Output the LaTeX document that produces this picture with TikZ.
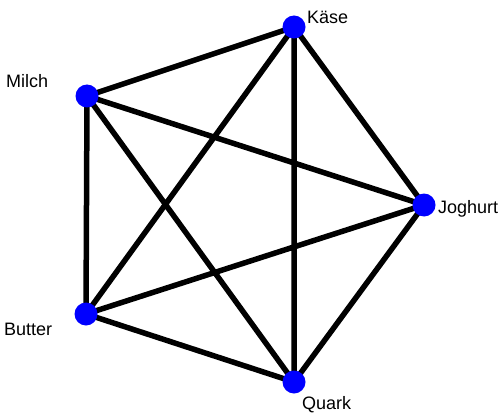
\documentclass[tikz,border=0pt]{standalone}
\usepackage{fontspec}
\setmainfont{Liberation Sans}
\begin{document}
\begin{tikzpicture}[x=1pt,y=1pt,
  vtx/.style={circle,fill=blue,draw=none,minimum size=23pt,inner sep=0pt},
  lbl/.style={anchor=base west,inner sep=0pt,font=\fontsize{18}{20}\selectfont},
  edge/.style={line width=5.5pt,black}]
\useasboundingbox (0,0) rectangle (500,413);
\coordinate (K) at (294,386);
\coordinate (M) at (87,317);
\coordinate (J) at (424,208);
\coordinate (B) at (86,99);
\coordinate (Q) at (294,31);
\draw[edge] (K) -- (M) (K) -- (J) (K) -- (B) (K) -- (Q)
  (M) -- (J) (M) -- (B) (M) -- (Q)
  (J) -- (B) (J) -- (Q) (B) -- (Q);
\node[vtx] (nK) at (K) {};
\node[vtx] (nM) at (M) {};
\node[vtx] (nJ) at (J) {};
\node[vtx] (nB) at (B) {};
\node[vtx] (nQ) at (Q) {};
\node[lbl] (lK) at (307,389) {Käse};
\node[lbl] (lM) at (6,325) {Milch};
\node[lbl] (lJ) at (438,200) {Joghurt};
\node[lbl] (lB) at (4,78) {Butter};
\node[lbl] (lQ) at (302,4) {Quark};
\end{tikzpicture}
\end{document}
